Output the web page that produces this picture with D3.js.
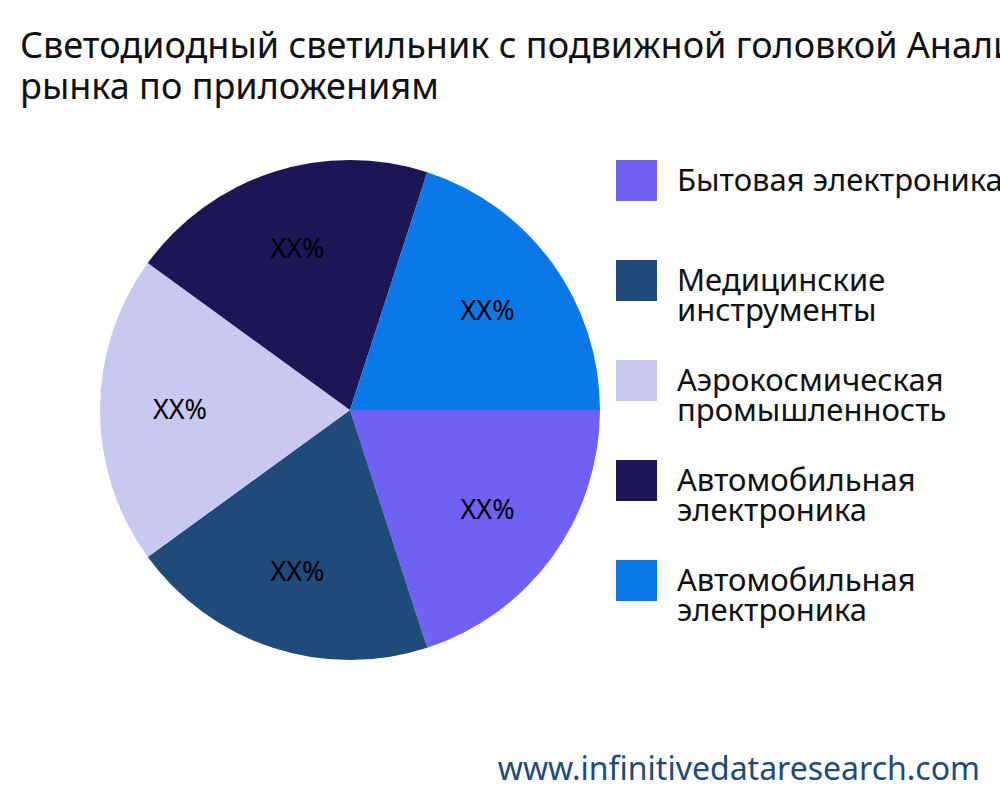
<!DOCTYPE html>
<html><head><meta charset="utf-8">
<script src="https://cdn.jsdelivr.net/npm/d3@7"></script>
<style>body{margin:0;background:#fff;overflow:hidden}svg{display:block}</style>
</head><body>
<script>
const categories = ["Бытовая электроника", "Медицинские инструменты", "Аэрокосмическая промышленность", "Автомобильная электроника", "Автомобильная электроника"];
const legendLines = [["Бытовая электроника"], ["Медицинские", "инструменты"], ["Аэрокосмическая", "промышленность"], ["Автомобильная", "электроника"], ["Автомобильная", "электроника"]];
const values = [20, 20, 20, 20, 20];
const labels = ["XX%", "XX%", "XX%", "XX%", "XX%"];
const colors = ["#6f61f2", "#1f4a7a", "#c9c8f0", "#1c1656", "#0a78e6"];

const font = "'Noto Sans', 'Open Sans', sans-serif";
const svg = d3.select("body").append("svg").attr("width", 1000).attr("height", 800);

svg.append("text").attr("x", 20).attr("y", 58).attr("font-family", font).attr("font-size", 36).attr("fill", "#111")
  .text("Светодиодный светильник с подвижной головкой Анализ");
svg.append("text").attr("x", 20).attr("y", 99).attr("font-family", font).attr("font-size", 36).attr("fill", "#111")
  .text("рынка по приложениям");

const cx = 350, cy = 410, r = 250;
const pie = d3.pie().sort(null).value(d => d).startAngle(Math.PI / 2).endAngle(Math.PI / 2 + 2 * Math.PI);
const arcs = pie(values);
const arc = d3.arc().innerRadius(0).outerRadius(r);
const labelArc = d3.arc().innerRadius(r * 0.68).outerRadius(r * 0.68);
const g = svg.append("g").attr("transform", `translate(${cx},${cy})`);
g.selectAll("path").data(arcs).join("path").attr("d", arc).attr("fill", (d, i) => colors[i]);
g.selectAll("text").data(arcs).join("text")
  .attr("transform", d => `translate(${labelArc.centroid(d)})`)
  .attr("text-anchor", "middle").attr("dy", "0.35em")
  .attr("font-family", font).attr("font-size", 27).attr("fill", "#000")
  .text((d, i) => labels[i]);

const lg = svg.append("g");
categories.forEach((c, i) => {
  const y = 160 + i * 100;
  lg.append("rect").attr("x", 616).attr("y", y).attr("width", 41).attr("height", 41).attr("fill", colors[i]);
  const t = lg.append("text").attr("x", 677).attr("font-family", font).attr("font-size", 31).attr("fill", "#111");
  legendLines[i].forEach((ln, j) => {
    t.append("tspan").attr("x", 677).attr("y", y + 31 + j * 30).text(ln);
  });
});

svg.append("text").attr("x", 980).attr("y", 780).attr("text-anchor", "end")
  .attr("font-family", font).attr("font-size", 32).attr("fill", "#1f4a7a")
  .text("www.infinitivedataresearch.com");
</script>
</body></html>
